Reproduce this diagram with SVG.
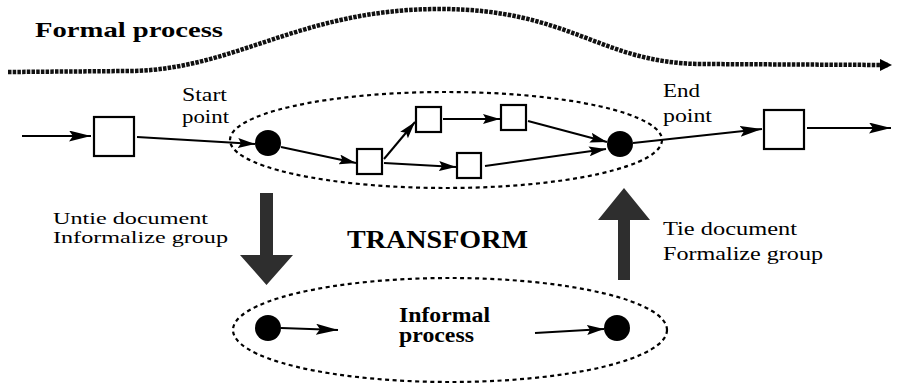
<svg xmlns="http://www.w3.org/2000/svg" width="906" height="386" viewBox="0 0 906 386">
  <style>
    .box { fill: #fff; stroke: #000; stroke-width: 2.2; }
    .dot { fill: #000; }
    .conn { fill: none; stroke: #000; stroke-width: 2; }
    .group { fill: none; stroke: #000; stroke-width: 2.2; stroke-dasharray: 4 3.5; }
    .flow { fill: none; stroke: #111; stroke-width: 4.5; stroke-dasharray: 3.5 1.2; }
    .big { fill: #2e2e2e; }
  </style>
  <defs>
    <marker id="ah" markerUnits="userSpaceOnUse" markerWidth="17" markerHeight="10" refX="17" refY="5" orient="auto">
      <path d="M0,0 L17,5 L0,10 L3,5 Z" fill="#000"/>
    </marker>
    <marker id="ahL" markerUnits="userSpaceOnUse" markerWidth="22" markerHeight="11" refX="22" refY="5.5" orient="auto">
      <path d="M0,0 L22,5.5 L0,11 L4,5.5 Z" fill="#000"/>
    </marker>
    <marker id="ahFlow" markerUnits="userSpaceOnUse" markerWidth="12" markerHeight="12" refX="8" refY="6" orient="auto">
      <path d="M0,0 L12,6 L0,12 Z" fill="#000"/>
    </marker>
  </defs>

  <g font-family="'Liberation Serif', 'Times New Roman', serif" fill="#000">

  <!-- overall formal process flow -->
  <g id="formal-flow">
    <path class="flow" d="M8,72 L130,71 C235,70 300,9 440,9 C570,9 600,63 700,64 L888,65" marker-end="url(#ahFlow)"/>
    <text x="35" y="37" font-size="22" font-weight="bold" textLength="188" lengthAdjust="spacingAndGlyphs">Formal process</text>
  </g>

  <!-- group outlines -->
  <g id="formal-group">
    <ellipse class="group" cx="446" cy="140" rx="216" ry="48"/>
  </g>
  <g id="informal-group">
    <ellipse class="group" cx="450" cy="330" rx="217" ry="52"/>
    <text x="399" y="322" font-size="20" font-weight="bold" textLength="91" lengthAdjust="spacingAndGlyphs">Informal</text>
    <text x="399" y="342" font-size="20" font-weight="bold" textLength="75" lengthAdjust="spacingAndGlyphs">process</text>
  </g>

  <!-- nodes -->
  <g id="box-in"><rect class="box" x="94" y="117" width="40" height="39"/></g>
  <g id="start-point">
    <circle class="dot" cx="268" cy="143" r="13"/>
    <text x="182" y="101" font-size="19" textLength="45" lengthAdjust="spacingAndGlyphs">Start</text>
    <text x="182" y="123" font-size="19" textLength="47" lengthAdjust="spacingAndGlyphs">point</text>
  </g>
  <g id="task-1"><rect class="box" x="357" y="149" width="25" height="25"/></g>
  <g id="task-2"><rect class="box" x="416" y="107" width="25" height="25"/></g>
  <g id="task-3"><rect class="box" x="501" y="105" width="25" height="25"/></g>
  <g id="task-4"><rect class="box" x="457" y="153" width="24" height="25"/></g>
  <g id="end-point">
    <circle class="dot" cx="620" cy="144" r="13"/>
    <text x="663" y="97" font-size="19" textLength="37" lengthAdjust="spacingAndGlyphs">End</text>
    <text x="663" y="122" font-size="19" textLength="49" lengthAdjust="spacingAndGlyphs">point</text>
  </g>
  <g id="box-out"><rect class="box" x="764" y="110" width="40" height="39"/></g>
  <g id="informal-start"><circle class="dot" cx="268" cy="328" r="13"/></g>
  <g id="informal-end"><circle class="dot" cx="617" cy="328" r="13"/></g>

  <!-- transform arrows -->
  <g id="untie">
    <polygon class="big" points="260,193 273,193 273,255 293,255 266.5,285 240,255 260,255"/>
    <text x="53" y="224" font-size="17" textLength="155" lengthAdjust="spacingAndGlyphs">Untie document</text>
    <text x="53" y="243" font-size="17" textLength="175" lengthAdjust="spacingAndGlyphs">Informalize group</text>
  </g>
  <g id="tie">
    <polygon class="big" points="618,280 630,280 630,220 650,220 624,188 598,220 618,220"/>
    <text x="663" y="235" font-size="19" textLength="134" lengthAdjust="spacingAndGlyphs">Tie document</text>
    <text x="663" y="260" font-size="19" textLength="160" lengthAdjust="spacingAndGlyphs">Formalize group</text>
  </g>
  <g id="transform-label">
    <text x="347" y="248" font-size="25" font-weight="bold" textLength="181" lengthAdjust="spacingAndGlyphs">TRANSFORM</text>
  </g>

  </g>

  <!-- connectors -->
  <g id="connectors">
    <line class="conn" x1="22" y1="136" x2="91" y2="136" marker-end="url(#ahL)"/>
    <line class="conn" x1="137" y1="137" x2="255" y2="144" marker-end="url(#ah)"/>
    <line class="conn" x1="281" y1="147" x2="356" y2="163" marker-end="url(#ah)"/>
    <line class="conn" x1="384" y1="159" x2="415" y2="122" marker-end="url(#ah)"/>
    <line class="conn" x1="384" y1="163" x2="456" y2="167" marker-end="url(#ah)"/>
    <line class="conn" x1="443" y1="119" x2="500" y2="119" marker-end="url(#ah)"/>
    <line class="conn" x1="528" y1="121" x2="607" y2="142" marker-end="url(#ah)"/>
    <line class="conn" x1="485" y1="166" x2="606" y2="149" marker-end="url(#ah)"/>
    <line class="conn" x1="633" y1="143" x2="762" y2="129" marker-end="url(#ahL)"/>
    <line class="conn" x1="807" y1="128" x2="891" y2="128" marker-end="url(#ahL)"/>
    <line class="conn" x1="281" y1="328" x2="338" y2="330" marker-end="url(#ahL)"/>
    <line class="conn" x1="535" y1="333" x2="604" y2="329" marker-end="url(#ah)"/>
  </g>
</svg>
